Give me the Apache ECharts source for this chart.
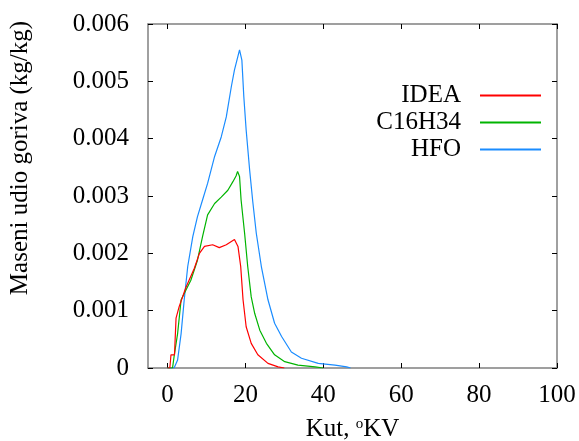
<!DOCTYPE html>
<html>
<head>
<meta charset="utf-8">
<script src="https://cdn.jsdelivr.net/npm/echarts@6/dist/echarts.min.js"></script>
<style>html,body{margin:0;padding:0;background:#fff}#c{width:579px;height:441px}</style>
</head>
<body>
<div id="c"></div>
<script>
var seriesNames = ['IDEA', 'C16H34', 'HFO'];
var xTicks = [0, 20, 40, 60, 80, 100];
var yTicks = [0, 0.001, 0.002, 0.003, 0.004, 0.005, 0.006];

var ideaX = [0.0, 0.6, 0.9, 1.8, 2.2, 3.0, 4.7, 6.9, 8.2, 9.5, 11.6, 13.3, 15.1, 17.2, 17.6, 18.1, 18.8, 19.4, 20.2, 21.5, 23.2, 25.8, 28.4, 30.0];
var ideaY = [0, 0, 0.00023, 0.00023, 0.00087, 0.00107, 0.0014, 0.00174, 0.0020, 0.00212, 0.00215, 0.0021, 0.00215, 0.00224, 0.00226, 0.00212, 0.00177, 0.00119, 0.00072, 0.00043, 0.00023, 0.00008, 0.00002, 0];

var c16X = [0.0, 1.3, 1.7, 2.6, 3.5, 4.3, 6.0, 7.7, 9.0, 10.3, 12.1, 13.8, 15.5, 16.8, 17.6, 18.0, 18.5, 18.9, 19.8, 20.6, 21.5, 22.4, 23.7, 25.4, 27.5, 30.1, 33.5, 37.9, 40.0];
var c16Y = [0, 0, 0.0002, 0.0006, 0.00119, 0.0013, 0.00153, 0.00188, 0.00229, 0.00267, 0.00287, 0.00298, 0.0031, 0.00325, 0.00335, 0.00343, 0.00334, 0.00293, 0.00235, 0.00177, 0.00124, 0.00095, 0.00066, 0.00043, 0.00023, 0.00011, 0.00005, 0.00002, 0];

var hfoX = [0.0, 1.7, 2.6, 3.5, 4.3, 5.2, 6.5, 7.7, 9.0, 10.3, 12.1, 13.8, 15.1, 16.4, 17.2, 18.5, 19.1, 19.6, 20.2, 21.1, 21.9, 22.8, 24.1, 25.8, 27.5, 29.3, 31.8, 34.4, 38.7, 43.0, 46.0, 47.0];
var hfoY = [0, 0, 0.00014, 0.0006, 0.00119, 0.00177, 0.00229, 0.00264, 0.00293, 0.00322, 0.00369, 0.00403, 0.00438, 0.00491, 0.0052, 0.00555, 0.00537, 0.00473, 0.00415, 0.00345, 0.0029, 0.00235, 0.00177, 0.00119, 0.00078, 0.00055, 0.00028, 0.00017, 0.00008, 0.00005, 0.00002, 0];

function pairs(xs, ys) { return xs.map(function (x, i) { return [x, ys[i]]; }); }

var FONT = '"Liberation Serif", serif';
var FS = 25;
var colors = ['#ff0000', '#00b400', '#1a8cff'];
var datasets = [pairs(ideaX, ideaY), pairs(c16X, c16Y), pairs(hfoX, hfoY)];

var chart = echarts.init(document.getElementById('c'), null, {renderer: 'canvas'});
chart.setOption({
  animation: false,
  backgroundColor: '#fff',
  grid: {left: 148, right: 22, top: 24, bottom: 73, containLabel: false, outerBoundsMode: 'none'},
  legend: {
    orient: 'vertical', right: 33, top: 77, itemGap: 0,
    align: 'right', itemWidth: 61, itemHeight: 2, icon: 'rect',
    data: seriesNames,
    textStyle: {fontFamily: FONT, fontSize: FS, color: '#000', lineHeight: 27, width: 100, align: 'right', padding: [0, 14, 0, 0]}
  },
  xAxis: [{
    type: 'value', min: -5, max: 100, position: 'bottom',
    name: 'Kut, {sup|o}KV', nameLocation: 'middle', nameGap: 49,
    nameTextStyle: {fontFamily: FONT, fontSize: FS, color: '#000', lineHeight: 25,
      rich: {sup: {fontFamily: FONT, fontSize: 15, color: '#000', verticalAlign: 'top', lineHeight: 25, padding: [0, 0, 8, 0]}}},
    axisLine: {show: true, onZero: false, lineStyle: {color: '#808080', width: 1.5}},
    axisTick: {show: true, inside: true, length: 5, customValues: xTicks, lineStyle: {color: '#000'}},
    axisLabel: {customValues: xTicks, margin: 15, fontFamily: FONT, fontSize: FS, color: '#000'},
    splitLine: {show: false}
  }, {
    type: 'value', min: -5, max: 100, position: 'top',
    axisLine: {show: true, onZero: false, lineStyle: {color: '#808080', width: 1.5}},
    axisTick: {show: true, inside: true, length: 5, customValues: xTicks, lineStyle: {color: '#000'}},
    axisLabel: {show: false},
    splitLine: {show: false}
  }],
  yAxis: [{
    type: 'value', min: 0, max: 0.006, interval: 0.001, position: 'left',
    name: 'Maseni udio goriva (kg/kg)', nameLocation: 'middle', nameGap: 115,
    nameTextStyle: {fontFamily: FONT, fontSize: FS, color: '#000', padding: [0, 0, 0, 76]},
    axisLine: {show: true, onZero: false, lineStyle: {color: '#808080', width: 1.5}},
    axisTick: {show: true, inside: true, length: 5, lineStyle: {color: '#000'}},
    axisLabel: {margin: 19, fontFamily: FONT, fontSize: FS, color: '#000',
      formatter: function (v) { return v === 0 ? '0' : v.toFixed(3); }},
    splitLine: {show: false}
  }, {
    type: 'value', min: 0, max: 0.006, interval: 0.001, position: 'right',
    axisLine: {show: true, onZero: false, lineStyle: {color: '#808080', width: 1.5}},
    axisTick: {show: true, inside: true, length: 5, lineStyle: {color: '#000'}},
    axisLabel: {show: false},
    splitLine: {show: false}
  }],
  series: seriesNames.map(function (n, i) {
    return {
      name: n, type: 'line', data: datasets[i], xAxisIndex: 0, yAxisIndex: 0,
      symbol: 'none', smooth: false, color: colors[i],
      lineStyle: {color: colors[i], width: 1.2}, z: 3 - i
    };
  })
});
</script>
</body>
</html>
